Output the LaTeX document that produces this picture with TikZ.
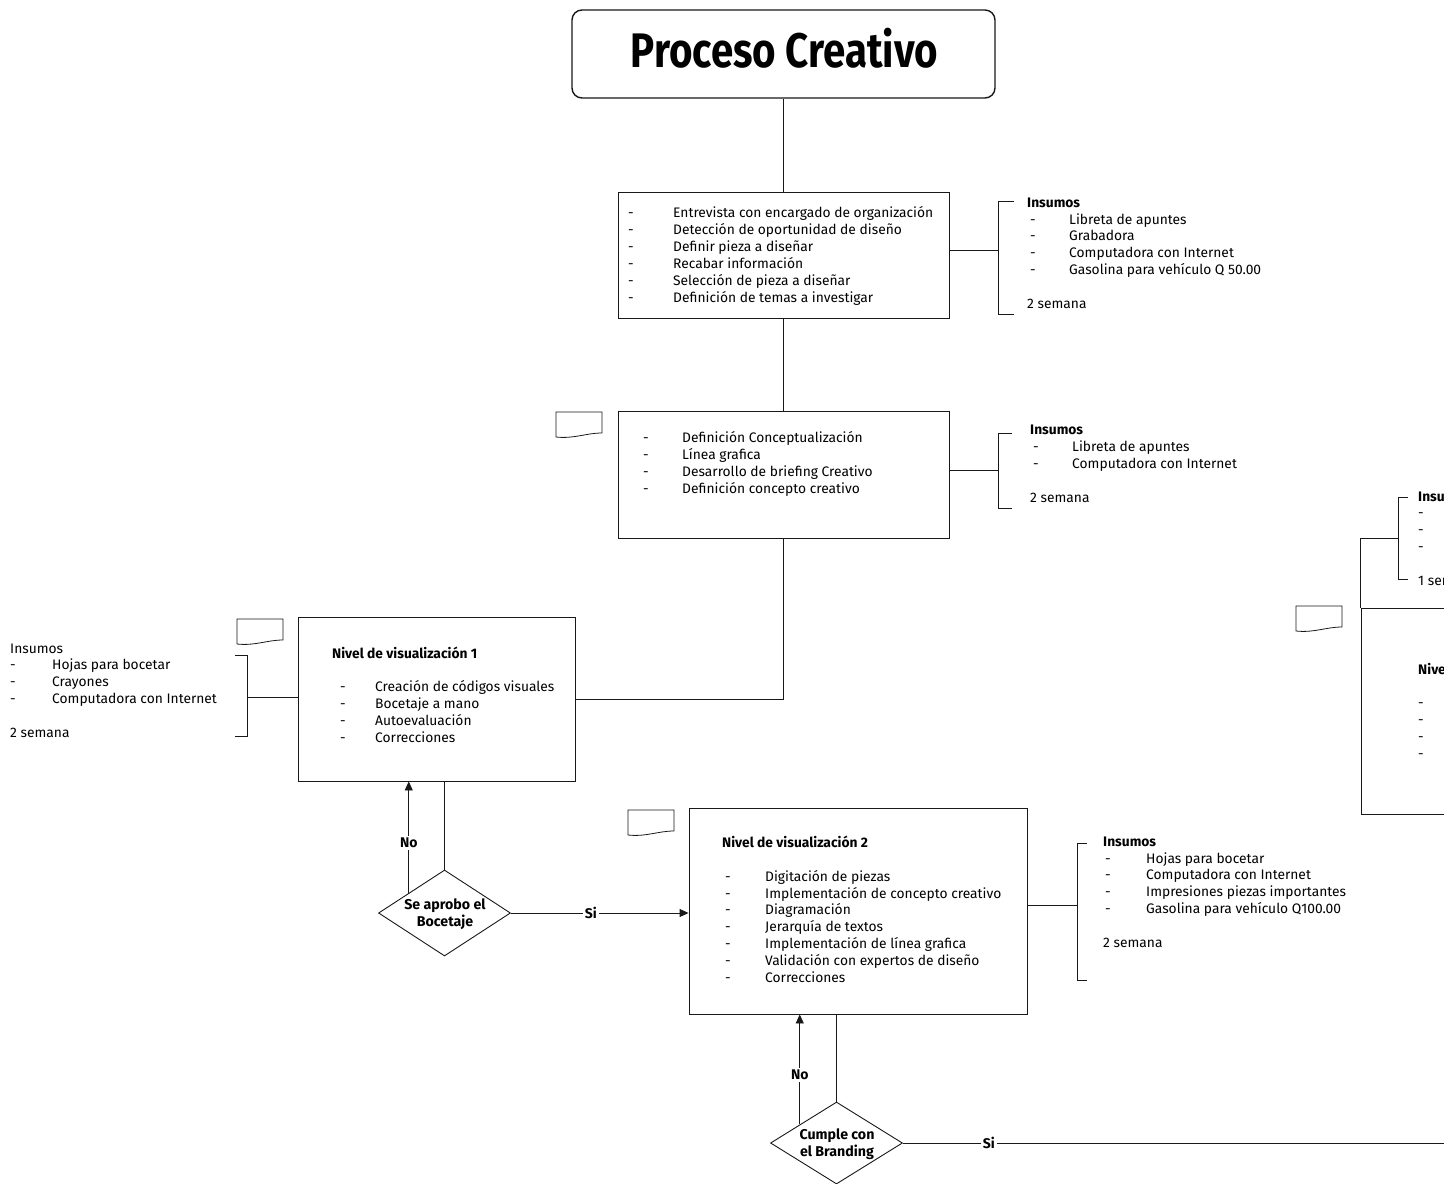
\documentclass[tikz,border=0pt]{standalone}
\usepackage{fontspec}
\setmainfont{Fira Sans}
\newfontfamily\titlefont{Fira Sans}[FakeStretch=0.83]
\usetikzlibrary{shapes.geometric,arrows.meta,calc}
\newcommand\dashitem[2]{\makebox[#1][l]{-}#2}
\tikzset{
  ln/.style={draw=black!90, line width=0.9pt},
  arr/.style={ln, -{Triangle[length=9pt,width=8pt]}},
  box/.style={draw=black!90, line width=0.9pt, rectangle, inner sep=0pt},
  dia/.style={draw=black!90, line width=0.9pt, diamond, inner sep=0pt, aspect=1.55},
  txt/.style={anchor=base west, inner sep=0pt, align=left, font=\fontsize{13.8}{16.9}\selectfont},
  btxt/.style={inner sep=0pt, align=center, font=\fontsize{14.2}{16.5}\selectfont\bfseries},
  lbl/.style={fill=white, inner sep=2pt, font=\fontsize{14}{16}\selectfont\bfseries},
  docshape/.pic={\draw[line width=0.8pt, black!90] (0,0) -- (46,0) -- (46,21) .. controls (30,21) and (18,27) .. (0,25) -- cycle;}
}
\begin{document}
\begin{tikzpicture}[x=1pt,y=-1pt]
\useasboundingbox (0,0) rectangle (1444,1184);
\clip (0,0) rectangle (1444,1184);
\fill[white] (0,0) rectangle (1444,1184);

% title
\node[box, rounded corners=10pt, line width=1.4pt, minimum width=423pt, minimum height=88pt] (title) at (783.5,54) {};
\node[anchor=base, inner sep=0pt, font=\titlefont\bfseries\fontsize{48.5}{52}\selectfont] (titletext) at (784.5,67) {Proceso Creativo};

% boxes
\node[box, minimum width=331pt, minimum height=126pt] (b1) at (783.5,255) {};
\node[box, minimum width=331pt, minimum height=127pt] (b2) at (783.5,474.5) {};
\node[box, minimum width=277pt, minimum height=164pt] (b3) at (436.5,699) {};
\node[box, minimum width=338pt, minimum height=206pt] (b4) at (858,911) {};
\node[box, minimum width=439pt, minimum height=206pt] (b5) at (1580.5,711) {};

% diamonds
\node[dia, minimum width=132pt, minimum height=86pt] (d1) at (444.5,913) {};
\node[btxt] (d1t) at (445,914) {Se aprobo el\\Bocetaje};
\node[dia, minimum width=132pt, minimum height=82pt] (d2) at (836.5,1143) {};
\node[btxt] (d2t) at (837,1144) {Cumple con\\el Branding};

% box texts (anchored at the baseline of the last line)
\node[txt, font=\fontsize{13.8}{17}\selectfont] (t1) at (628,302.5) {\dashitem{45pt}{Entrevista con encargado de organización}\\
\dashitem{45pt}{Detección de oportunidad de diseño}\\
\dashitem{45pt}{Definir pieza a diseñar}\\
\dashitem{45pt}{Recabar información}\\
\dashitem{45pt}{Selección de pieza a diseñar}\\
\dashitem{45pt}{Definición de temas a investigar}};

\node[txt] (t2) at (643,493.5) {\dashitem{39pt}{Definición Conceptualización}\\
\dashitem{39pt}{Línea grafica}\\
\dashitem{39pt}{Desarrollo de briefing Creativo}\\
\dashitem{39pt}{Definición concepto creativo}};

\node[txt] (t3) at (332,742.5) {\textbf{Nivel de visualización 1}\\[16.9pt]
\hspace*{8pt}\dashitem{35pt}{Creación de códigos visuales}\\
\hspace*{8pt}\dashitem{35pt}{Bocetaje a mano}\\
\hspace*{8pt}\dashitem{35pt}{Autoevaluación}\\
\hspace*{8pt}\dashitem{35pt}{Correcciones}};

\node[txt] (t4) at (722,982.5) {\textbf{Nivel de visualización 2}\\[16.9pt]
\hspace*{3pt}\dashitem{40pt}{Digitación de piezas}\\
\hspace*{3pt}\dashitem{40pt}{Implementación de concepto creativo}\\
\hspace*{3pt}\dashitem{40pt}{Diagramación}\\
\hspace*{3pt}\dashitem{40pt}{Jerarquía de textos}\\
\hspace*{3pt}\dashitem{40pt}{Implementación de línea grafica}\\
\hspace*{3pt}\dashitem{40pt}{Validación con expertos de diseño}\\
\hspace*{3pt}\dashitem{40pt}{Correcciones}};

\node[txt] (t5) at (1418,758.5) {\textbf{Nivel de visualización 3}\\[16.9pt]
-\\ -\\ -\\ -};

% insumos
\node[txt] (i1) at (1027,308.5) {\textbf{Insumos}\\
\hspace*{3pt}\dashitem{39pt}{Libreta de apuntes}\\
\hspace*{3pt}\dashitem{39pt}{Grabadora}\\
\hspace*{3pt}\dashitem{39pt}{Computadora con Internet}\\
\hspace*{3pt}\dashitem{39pt}{Gasolina para vehículo Q 50.00}\\[16.9pt]
2 semana};

\node[txt] (i2) at (1030,502.5) {\textbf{Insumos}\\
\hspace*{3pt}\dashitem{39pt}{Libreta de apuntes}\\
\hspace*{3pt}\dashitem{39pt}{Computadora con Internet}\\[16.9pt]
2 semana};

\node[txt] (i3) at (10,737.5) {Insumos\\
\dashitem{42pt}{Hojas para bocetar}\\
\dashitem{42pt}{Crayones}\\
\dashitem{42pt}{Computadora con Internet}\\[16.9pt]
2 semana};

\node[txt] (i4) at (1103,947.5) {\textbf{Insumos}\\
\hspace*{2pt}\dashitem{41pt}{Hojas para bocetar}\\
\hspace*{2pt}\dashitem{41pt}{Computadora con Internet}\\
\hspace*{2pt}\dashitem{41pt}{Impresiones piezas importantes}\\
\hspace*{2pt}\dashitem{41pt}{Gasolina para vehículo Q100.00}\\[16.9pt]
2 semana};

\node[txt] (i5) at (1418,585.5) {\textbf{Insumos}\\ -\\ -\\ -\\[16.9pt] 1 semana};

% document shapes
\pic at (556,412) {docshape};
\pic at (237,619) {docshape};
\pic at (628,810) {docshape};
\pic at (1296,606) {docshape};

% bracket coordinates
\coordinate (br1) at (998,250);
\coordinate (br2) at (998,470);
\coordinate (br3) at (247,697);
\coordinate (br4) at (1077,905);
\coordinate (br5) at (1398,538);
\coordinate (siend) at (1450,1143);

% brackets
\draw[ln] (1014,201) -- (998,201) -- (998,314) -- (1014,314);
\draw[ln] (1012,433) -- (998,433) -- (998,508) -- (1012,508);
\draw[ln] (235,655) -- (247,655) -- (247,736) -- (235,736);
\draw[ln] (1087,843) -- (1077,843) -- (1077,980) -- (1087,980);
\draw[ln] (1408,497) -- (1398,497) -- (1398,579) -- (1408,579);

% connectors
\draw[ln] (title.south) -- (b1.north);
\draw[ln] (b1.south) -- (b2.north);
\draw[ln] (b2.south) |- (b3.east);
\draw[ln] (b1.east |- br1) -- (br1);
\draw[ln] (b2.east |- br2) -- (br2);
\draw[ln] (b3.west |- br3) -- (br3);
\draw[ln] (b4.east |- br4) -- (br4);
\draw[ln] (b5.north west) -- (b5.north west |- br5) -- (br5);

\draw[ln] (d1.north) -- (d1.north |- b3.south);
\coordinate (n1) at ($(d1.north)!0.538!(d1.west)$);
\draw[arr] (n1) -- (n1 |- b3.south) node[lbl, pos=0.45] (no1) {No};
\draw[arr] (d1.east) -- (d1.east -| b4.west) node[lbl, pos=0.45] (si1) {Si};

\draw[ln] (d2.north) -- (d2.north |- b4.south);
\coordinate (n2) at ($(d2.north)!0.553!(d2.west)$);
\draw[arr] (n2) -- (n2 |- b4.south) node[lbl, pos=0.45] (no2) {No};
\draw[ln] (d2.east) -- (siend) node[lbl, pos=0.157] (si2) {Si};
\end{tikzpicture}
\end{document}
